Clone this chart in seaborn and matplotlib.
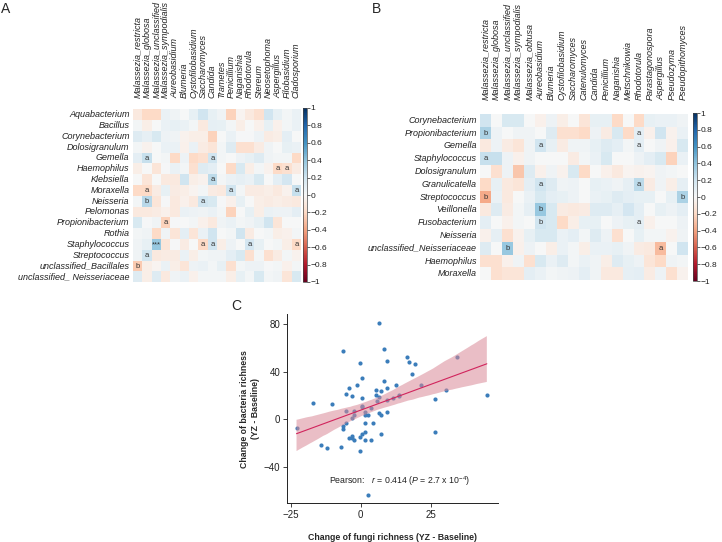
import numpy as np
import pandas as pd
import matplotlib
matplotlib.use("Agg")
import matplotlib.pyplot as plt
import seaborn as sns
from matplotlib.ticker import FuncFormatter

sns.set_theme(style="ticks")
plt.rcParams["font.family"] = ["Liberation Sans", "DejaVu Sans"]
plt.rcParams["mathtext.fontset"] = "custom"
plt.rcParams["mathtext.rm"] = "Liberation Sans"
plt.rcParams["mathtext.it"] = "Liberation Sans:italic"
plt.rcParams["axes.unicode_minus"] = True

# ---------------- Panel A data ----------------
fungi_A = ["Malassezia_restricta", "Malassezia_globosa", "Malassezia_unclassified",
           "Malassezia_sympodialis", "Aureobasidium", "Blumeria", "Cystofilobasidium",
           "Saccharomyces", "Candida", "Trametes", "Penicillium", "Naganishia",
           "Rhodotorula", "Stereum", "Neosetophoma", "Aspergillus", "Filobasidium",
           "Cladosporium"]
bacteria_A = ["Aquabacterium", "Bacillus", "Corynebacterium", "Dolosigranulum", "Gemella",
              "Haemophilus", "Klebsiella", "Moraxella", "Neisseria", "Pelomonas",
              "Propionibacterium", "Rothia", "Staphylococcus", "Streptococcus",
              "unclassified_Bacillales", "unclassified_ Neisseriaceae"]
corr_A = [
    [-0.10, -0.20, -0.20, 0.07, 0.04, 0.00, 0.08, 0.20, 0.08, 0.04, -0.23, -0.03, -0.10, -0.16, 0.20, 0.08, 0.03, 0.07],
    [0.03, -0.07, 0.00, 0.07, 0.08, 0.07, 0.03, -0.10, 0.09, 0.08, 0.03, -0.07, 0.00, -0.05, 0.08, -0.05, 0.03, 0.07],
    [0.13, 0.09, 0.16, 0.05, 0.04, -0.04, -0.07, -0.07, -0.23, 0.00, 0.07, 0.01, 0.01, 0.05, -0.08, -0.07, 0.10, 0.00],
    [0.03, -0.04, 0.00, 0.07, 0.07, -0.05, 0.07, -0.08, -0.13, 0.03, 0.13, -0.16, -0.16, -0.08, 0.04, 0.00, 0.08, 0.07],
    [0.10, 0.23, 0.00, 0.03, -0.20, 0.05, -0.20, -0.16, 0.20, 0.03, 0.00, 0.05, 0.08, 0.13, 0.04, 0.03, 0.03, -0.20],
    [-0.07, 0.00, -0.13, 0.01, 0.07, 0.03, -0.16, 0.13, 0.10, 0.00, -0.20, 0.16, -0.07, 0.03, -0.04, -0.20, -0.16, -0.08],
    [0.00, -0.13, 0.00, -0.10, -0.10, 0.20, -0.07, -0.04, 0.26, 0.03, 0.07, 0.09, 0.07, 0.16, 0.00, 0.10, 0.18, 0.00],
    [-0.20, -0.20, -0.08, 0.08, -0.08, -0.07, -0.03, 0.03, -0.08, -0.10, 0.20, 0.03, -0.08, -0.08, -0.07, -0.10, -0.04, 0.23],
    [0.03, 0.28, -0.13, 0.01, -0.10, -0.05, -0.10, 0.20, 0.16, 0.01, -0.05, 0.08, 0.00, -0.07, -0.08, -0.07, -0.08, -0.10],
    [-0.10, -0.10, -0.08, -0.05, -0.10, 0.07, 0.05, 0.04, 0.07, 0.03, -0.23, 0.00, 0.08, -0.07, 0.07, 0.05, 0.05, 0.10],
    [0.16, 0.01, 0.04, -0.23, 0.01, 0.00, 0.03, -0.05, -0.10, 0.04, 0.07, 0.03, 0.04, 0.08, 0.20, -0.13, 0.00, 0.00],
    [0.03, 0.04, -0.20, 0.04, -0.13, 0.10, -0.13, 0.07, 0.20, 0.00, 0.03, 0.20, -0.08, 0.00, 0.03, -0.07, -0.05, 0.03],
    [0.04, 0.08, 0.38, -0.13, 0.01, -0.08, 0.00, -0.20, 0.20, -0.07, 0.05, 0.00, 0.18, 0.08, 0.00, 0.03, -0.07, -0.20],
    [0.04, 0.20, -0.10, -0.08, -0.08, 0.07, -0.07, 0.03, 0.04, 0.04, 0.10, 0.16, -0.16, 0.03, -0.16, -0.08, 0.03, -0.04],
    [-0.26, -0.07, -0.03, 0.07, -0.07, -0.13, 0.05, 0.07, 0.03, 0.08, -0.16, 0.03, 0.05, 0.05, 0.01, 0.03, -0.05, 0.03],
    [0.13, -0.07, 0.13, -0.10, 0.04, 0.07, -0.05, 0.03, 0.03, 0.03, -0.07, 0.08, 0.03, 0.16, 0.03, 0.04, -0.13, 0.16],
]
# (row, column, label)
sig_A = [(4, 1, "a"), (4, 8, "a"), (5, 15, "a"), (5, 16, "a"), (6, 8, "a"),
         (7, 1, "a"), (7, 10, "a"), (7, 17, "a"), (8, 1, "b"), (8, 7, "a"),
         (10, 3, "a"), (12, 2, "***"), (12, 7, "a"), (12, 8, "a"), (12, 12, "a"),
         (12, 17, "a"), (13, 1, "a"), (14, 0, "b")]

# ---------------- Panel B data ----------------
fungi_B = ["Malassezia_restricta", "Malassezia_globosa", "Malassezia_unclassified",
           "Malassezia_sympodialis", "Malassezia_obtusa", "Aureobasidium", "Blumeria",
           "Cystofilobasidium", "Saccharomyces", "Catenulomyces", "Candida", "Penicillium",
           "Naganishia", "Metschnikowia", "Rhodotorula", "Parastagonospora", "Aspergillus",
           "Pseudozyma", "Pseudopithomyces"]
bacteria_B = ["Corynebacterium", "Propionibacterium", "Gemella", "Staphylococcus",
              "Dolosigranulum", "Granulicatella", "Streptococcus", "Veillonella",
              "Fusobacterium", "Neisseria", "unclassified_Neisseriaceae", "Haemophilus",
              "Moraxella"]
corr_B = [
    [0.20, 0.00, 0.16, 0.16, 0.00, -0.05, 0.05, -0.07, 0.00, -0.13, 0.08, 0.08, -0.20, 0.00, -0.20, 0.08, 0.07, 0.07, 0.04],
    [0.32, 0.05, 0.00, 0.04, 0.04, 0.00, 0.13, -0.16, -0.16, -0.20, 0.05, -0.08, 0.16, -0.20, 0.10, -0.05, 0.20, -0.04, 0.07],
    [-0.10, 0.05, -0.08, -0.13, 0.04, 0.20, 0.08, -0.08, 0.04, 0.04, 0.08, 0.13, 0.10, 0.03, 0.10, 0.00, 0.04, -0.05, 0.16],
    [0.23, 0.23, 0.05, -0.05, 0.04, 0.00, 0.00, 0.00, -0.08, 0.03, 0.07, 0.16, 0.00, 0.00, 0.05, 0.10, 0.16, -0.23, 0.07],
    [0.00, -0.16, 0.05, -0.28, 0.13, -0.05, 0.04, -0.04, 0.16, -0.20, 0.00, -0.05, -0.10, -0.03, -0.04, -0.03, 0.04, 0.03, 0.00],
    [-0.20, 0.08, -0.10, -0.13, 0.10, 0.20, 0.13, 0.04, 0.05, 0.00, 0.08, 0.07, 0.04, 0.09, 0.26, -0.08, 0.04, -0.07, 0.09],
    [-0.38, 0.07, -0.10, 0.00, 0.07, 0.16, 0.10, 0.08, 0.05, 0.00, 0.07, 0.08, 0.13, 0.10, 0.08, 0.08, 0.00, 0.08, 0.32],
    [-0.10, 0.13, -0.08, 0.03, 0.09, 0.38, 0.16, -0.08, -0.10, -0.08, 0.13, 0.13, 0.09, 0.18, 0.10, 0.00, 0.08, 0.05, 0.10],
    [0.10, 0.00, -0.05, 0.03, 0.00, 0.20, 0.16, -0.20, -0.07, 0.08, 0.08, 0.00, 0.05, 0.08, 0.10, -0.05, 0.00, 0.00, 0.05],
    [-0.05, 0.09, -0.16, -0.04, 0.08, 0.16, 0.16, 0.07, 0.10, 0.03, 0.13, 0.05, -0.16, 0.00, 0.08, 0.03, 0.03, -0.04, 0.04],
    [0.13, 0.00, 0.38, -0.05, 0.05, 0.00, -0.07, 0.07, 0.03, -0.07, 0.07, 0.07, 0.08, 0.04, -0.08, -0.10, -0.32, 0.00, 0.20],
    [-0.16, -0.16, -0.05, 0.04, -0.16, 0.16, 0.07, 0.13, 0.03, 0.07, 0.04, -0.07, 0.13, 0.08, 0.05, -0.13, -0.20, 0.04, 0.03],
    [0.00, -0.16, -0.13, -0.13, 0.10, 0.07, 0.03, 0.04, 0.05, 0.10, 0.04, -0.10, -0.10, 0.09, 0.10, -0.08, 0.05, -0.16, -0.04],
]
sig_B = [(1, 0, "b"), (1, 14, "a"), (2, 5, "a"), (2, 14, "a"), (3, 0, "a"),
         (5, 5, "a"), (5, 14, "a"), (6, 0, "b"), (6, 18, "b"), (7, 5, "b"),
         (8, 5, "b"), (8, 14, "a"), (10, 2, "b"), (10, 16, "a")]

# ---------------- Panel C data ----------------
fungi_change = [-23.0, -17.2, -14.1, -12.2, -10.2, -7.1, -6.2, -6.2, -6.2, -5.2, -5.2, -5.2,
                -4.3, -4.3, -3.3, -3.3, -3.3, -3.3, -2.4, -2.4, -2.4, -1.4, -0.4, -0.4,
                -0.4, 0.6, 0.6, 0.6, 0.6, 0.6, 1.5, 1.5, 1.5, 1.5, 1.5, 2.5, 2.5, 3.6,
                3.6, 4.5, 5.5, 5.5, 5.9, 6.4, 6.4, 6.4, 7.3, 7.3, 7.3, 8.3, 8.3, 9.5,
                9.5, 9.5, 9.5, 11.4, 12.6, 13.5, 13.5, 16.5, 17.4, 18.4, 19.3, 21.4,
                26.4, 26.4, 30.5, 34.4, 45.1]
bacteria_change = [-6.9, 14.1, -21.8, -24.0, 13.0, -23.7, 57.0, -5.8, -8.0, 21.1, 7.1, -3.0,
                   26.1, -15.3, 20.0, -13.9, -15.6, 1.0, -17.3, 7.1, 3.2, 29.0, 47.2, -15.0,
                   -27.0, 35.0, 18.3, 11.3, 10.0, -12.0, 6.2, -3.0, -10.3, -17.6, 3.5, 4.0,
                   -64.0, 9.4, -17.6, -3.0, 24.5, 20.3, 15.2, 81.0, 19.0, 4.9, 23.6, 3.2,
                   -12.2, 59.0, 32.3, 49.2, 25.9, 16.1, 6.0, 17.5, 29.0, 20.8, 19.4, 52.0,
                   48.3, 38.2, 46.3, 29.0, 16.7, -10.6, 25.0, 52.0, 20.3]
x_ticks_C = [-25, 0, 25]
y_ticks_C = [-40, 0, 40, 80]
cbar_ticks = [-1, -0.8, -0.6, -0.4, -0.2, 0, 0.2, 0.4, 0.6, 0.8, 1]


def annot_matrix(shape, sig):
    m = np.full(shape, "", dtype=object)
    for r, c, s in sig:
        m[r, c] = s
    return m


W, H = 722, 542
fig = plt.figure(figsize=(W / 100, H / 100), dpi=100)


def px_axes(x0, y0, x1, y1):
    return fig.add_axes([x0 / W, 1 - y1 / H, (x1 - x0) / W, (y1 - y0) / H])


fmt_cb = FuncFormatter(lambda v, _: f"{v:g}".replace("-", "\u2212"))
lab_fs = 6.5


def draw_heat(ax, cax, data, rows, cols, sig, pad_top):
    df = pd.DataFrame(data, index=rows, columns=cols)
    sns.heatmap(df, ax=ax, cbar_ax=cax, cmap="RdBu", vmin=-1, vmax=1,
                annot=annot_matrix(df.shape, sig), fmt="",
                annot_kws={"size": 5.5, "color": "#333333"},
                xticklabels=True, yticklabels=True,
                cbar_kws={"ticks": cbar_ticks})
    ax.xaxis.tick_top()
    ax.set_xticklabels(cols, rotation=90, fontsize=lab_fs, style="italic",
                       color="#222222")
    ax.set_yticklabels(rows, rotation=0, fontsize=lab_fs, style="italic",
                       color="#222222")
    ax.tick_params(axis="x", length=0, pad=pad_top)
    ax.tick_params(axis="y", length=0, pad=2.5)
    ax.set_xlabel("")
    ax.set_ylabel("")
    cax.yaxis.set_major_formatter(fmt_cb)
    cax.tick_params(labelsize=6, length=2, width=0.5, pad=1, colors="#222222")
    cb = ax.collections[0].colorbar
    cb.outline.set_linewidth(0.5)
    cb.outline.set_edgecolor("#444444")


axA = px_axes(133, 109.4, 301, 282.2)
caxA = px_axes(303, 108, 306.5, 282)
draw_heat(axA, caxA, corr_A, bacteria_A, fungi_A, sig_A, 8.5)

axB = px_axes(480.2, 113.8, 688.3, 280.3)
caxB = px_axes(693, 113, 696.5, 281)
draw_heat(axB, caxB, corr_B, bacteria_B, fungi_B, sig_B, 10)

# ---------------- Panel C ----------------
axC = px_axes(287.3, 314, 498, 503.3)
sns.regplot(x=np.array(fungi_change), y=np.array(bacteria_change), ax=axC,
            ci=95, seed=0, n_boot=1000,
            scatter_kws={"s": 9, "color": "#3b7dba", "linewidths": 0, "alpha": 1},
            line_kws={"color": "#d1245c", "lw": 0.8})
band = axC.collections[-1]
band.set_facecolor("#d98a97")
band.set_alpha(0.55)
band.set_edgecolor("none")
axC.set_xlim(-26.3, 49.1)
axC.set_ylim(-70.6, 88.5)
axC.set_xticks(x_ticks_C)
axC.set_yticks(y_ticks_C)
sns.despine(ax=axC)
for sp in axC.spines.values():
    sp.set_linewidth(0.7)
    sp.set_color("#222222")
axC.tick_params(labelsize=7, length=3, width=0.6, pad=2, colors="#222222")
axC.set_xlabel("Change of fungi richness (YZ - Baseline)", fontsize=6.3,
               fontweight="bold", labelpad=9)
axC.set_ylabel("Change of bacteria richness\n(YZ - Baseline)", fontsize=6.3,
               fontweight="bold", labelpad=3)
axC.text(-11.2, -51.8, r"Pearson:   $\it{r}$ = 0.414 ($\it{P}$ = 2.7 x 10$^{-4}$)",
         fontsize=6.3, va="center", ha="left", color="#222222")

fig.text(1 / W, 1 - 9 / H, "A", fontsize=10, va="center", ha="left")
fig.text(372 / W, 1 - 9 / H, "B", fontsize=10, va="center", ha="left")
fig.text(231 / W, 1 - 306 / H, "C", fontsize=10, va="center", ha="left")

fig.savefig("out.png", dpi=100)
